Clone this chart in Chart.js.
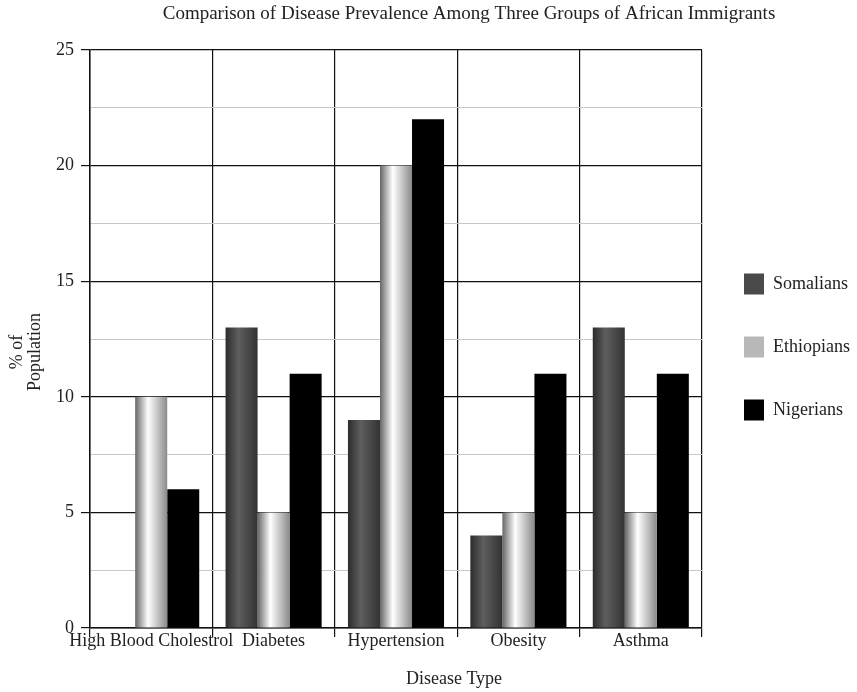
<!DOCTYPE html>
<html>
<head>
<meta charset="utf-8">
<script src="https://cdn.jsdelivr.net/npm/chart.js@4.4.1/dist/chart.umd.min.js"></script>
<style>
  html, body { margin: 0; padding: 0; background: #fff; }
  #wrap { width: 857px; height: 692px; }
</style>
</head>
<body>
<div id="wrap"><canvas id="diseaseChart"></canvas></div>
<script>
// Data
const diseases = ['High Blood Cholestrol', 'Diabetes', 'Hypertension', 'Obesity', 'Asthma'];
const somalians = [0, 13, 9, 4, 13];
const ethiopians = [10, 5, 20, 5, 5];
const nigerians = [6, 11, 22, 11, 11];
const yTicks = [0, 5, 10, 15, 20, 25];

const chartTitle = 'Comparison of Disease Prevalence Among Three Groups of African Immigrants';
const xTitle = 'Disease Type';
const yTitle = ['% of', 'Population'];

const serif = "'Liberation Serif', 'Times New Roman', serif";
const textColor = '#222';

// gradient stops per series (cylinder look)
const shades = {
  Somalians: [[0, '#2c2c2c'], [0.4, '#5e5e5e'], [1, '#333333']],
  Ethiopians: [[0, '#666666'], [0.4, '#ffffff'], [1, '#8a8a8a']],
  Nigerians: [[0, '#000000'], [1, '#000000']]
};

// paint each bar with a horizontal gradient
const barShading = {
  id: 'barShading',
  beforeDatasetsDraw(chart) {
    const ctx = chart.ctx;
    chart.data.datasets.forEach((ds, i) => {
      const meta = chart.getDatasetMeta(i);
      meta.data.forEach(bar => {
        const left = bar.x - bar.width / 2;
        const g = ctx.createLinearGradient(left, 0, left + bar.width, 0);
        shades[ds.label].forEach(s => g.addColorStop(s[0], s[1]));
        bar.options.backgroundColor = g;
      });
    });
  }
};

// titles sit off-centre in the reference, so draw them by hand
const extraText = {
  id: 'extraText',
  afterDraw(chart) {
    const ctx = chart.ctx;
    ctx.save();
    ctx.fillStyle = textColor;
    ctx.textAlign = 'center';
    ctx.textBaseline = 'alphabetic';
    ctx.font = '19px ' + serif;
    ctx.fillText(chartTitle, 469, 19);
    ctx.font = '18px ' + serif;
    ctx.fillText(xTitle, 454, 684);
    // y title, two lines rotated
    ctx.translate(0, 352);
    ctx.rotate(-Math.PI / 2);
    ctx.fillText(yTitle[0], 0, 22);
    ctx.fillText(yTitle[1], 0, 40);
    ctx.restore();
  }
};

new Chart(document.getElementById('diseaseChart'), {
  type: 'bar',
  data: {
    labels: diseases,
    datasets: [
      { label: 'Somalians', data: somalians, backgroundColor: () => '#4a4a4a' },
      { label: 'Ethiopians', data: ethiopians, backgroundColor: () => '#b8b8b8' },
      { label: 'Nigerians', data: nigerians, backgroundColor: () => '#000000' }
    ]
  },
  options: {
    responsive: true,
    maintainAspectRatio: false,
    animation: false,
    layout: { padding: { top: 50, bottom: 0, left: 0, right: 0 } },
    datasets: {
      bar: { borderWidth: 0, categoryPercentage: 0.785, barPercentage: 1 }
    },
    plugins: {
      title: { display: false },
      tooltip: { enabled: false },
      legend: {
        position: 'right',
        fullSize: false,
        maxWidth: 155,
        // empty title only nudges the items down a little
        title: { display: true, text: ' ', font: { size: 10, lineHeight: 1 }, padding: 3 },
        labels: {
          boxWidth: 20,
          boxHeight: 21,
          padding: 42,
          color: textColor,
          font: { family: serif, size: 18 }
        }
      }
    },
    scales: {
      x: {
        offset: true,
        afterFit: s => { s.height = 64; },
        grid: { offset: true, color: '#111', lineWidth: 1.2, tickLength: 9, drawTicks: true },
        border: { color: '#111', width: 1.5 },
        ticks: { color: textColor, padding: -7, font: { family: serif, size: 18 }, maxRotation: 0, autoSkip: false }
      },
      y: {
        min: 0,
        max: 25,
        afterFit: s => { s.width = 90; },
        afterBuildTicks: s => {
          const list = [];
          for (let v = 0; v <= 25; v += 2.5) list.push({ value: v });
          s.ticks = list;
        },
        grid: {
          color: c => (yTicks.includes(c.tick.value) ? '#111' : '#c8c8c8'),
          tickColor: c => (yTicks.includes(c.tick.value) ? '#111' : 'rgba(0,0,0,0)'),
          lineWidth: c => (yTicks.includes(c.tick.value) ? 1.2 : 1),
          tickLength: 9
        },
        border: { color: '#111', width: 1.5 },
        ticks: {
          color: textColor,
          padding: 7,
          font: { family: serif, size: 18 },
          callback: v => (yTicks.includes(v) ? v : '')
        }
      }
    }
  },
  plugins: [barShading, extraText]
});
</script>
</body>
</html>
